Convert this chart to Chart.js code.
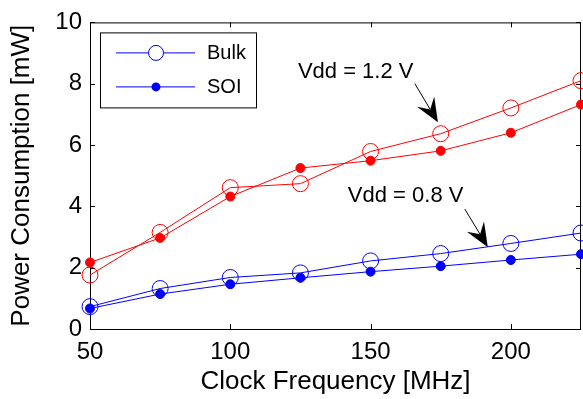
<!DOCTYPE html>
<html>
<head>
<meta charset="utf-8">
<script src="https://cdn.jsdelivr.net/npm/chart.js@4"></script>
<style>
  html, body { margin: 0; padding: 0; background: #fff; }
</style>
</head>
<body>
<canvas id="chart" width="583" height="399"></canvas>
<script>
// data (mW vs MHz)
const freqs  = [50, 75, 100, 125, 150, 175, 200, 225];
const bulk12 = [1.76, 3.15, 4.61, 4.74, 5.79, 6.37, 7.21, 8.10];
const soi12  = [2.17, 2.97, 4.32, 5.25, 5.49, 5.81, 6.40, 7.32];
const bulk08 = [0.73, 1.32, 1.68, 1.83, 2.22, 2.46, 2.79, 3.13];
const soi08  = [0.67, 1.14, 1.46, 1.67, 1.87, 2.05, 2.25, 2.44];
const xTicks = [50, 100, 150, 200];
const yTicks = [0, 2, 4, 6, 8, 10];
const legendNames = ['Bulk', 'SOI'];

// annotations in data units: label position, arrow start, arrow tip
const notes = [
  { text: 'Vdd = 1.2 V', at: [124.1, 8.2], from: [165.8, 8.0], to: [174.0, 6.74] },
  { text: 'Vdd = 0.8 V', at: [141.9, 4.13], from: [183.6, 3.91], to: [191.8, 2.67] }
];

const FONT = "'Liberation Sans', Arial, Helvetica, sans-serif";
Chart.defaults.font.family = FONT;
Chart.defaults.color = '#000';

function pts(vals) {
  return freqs.map((f, i) => ({ x: f, y: vals[i] }));
}

function openSeries(vals, color) {
  return {
    data: pts(vals), borderColor: color, borderWidth: 1, tension: 0,
    pointStyle: 'circle', pointRadius: 8, pointBorderWidth: 1,
    pointBorderColor: color, pointBackgroundColor: 'rgba(0,0,0,0)', clip: false
  };
}
function dotSeries(vals, color) {
  return {
    data: pts(vals), borderColor: color, borderWidth: 1, tension: 0,
    pointStyle: 'circle', pointRadius: 4.5, pointBorderWidth: 1,
    pointBorderColor: color, pointBackgroundColor: color, clip: false
  };
}

// box + inward ticks on all four sides, under the markers
const framePlugin = {
  id: 'frame',
  beforeDatasetsDraw(chart) {
    const { ctx, chartArea: a, scales: { x, y } } = chart;
    ctx.save();
    ctx.strokeStyle = '#000';
    ctx.lineWidth = 1;
    ctx.strokeRect(a.left + 0.5, a.top + 0.5, a.right - a.left - 1, a.bottom - a.top);
    ctx.beginPath();
    xTicks.forEach(v => {
      const px = Math.round(x.getPixelForValue(v)) + 0.5;
      ctx.moveTo(px, a.bottom); ctx.lineTo(px, a.bottom - 5);
      ctx.moveTo(px, a.top); ctx.lineTo(px, a.top + 5);
    });
    yTicks.forEach(v => {
      const py = Math.round(y.getPixelForValue(v)) + 0.5;
      ctx.moveTo(a.left, py); ctx.lineTo(a.left + 5, py);
      ctx.moveTo(a.right, py); ctx.lineTo(a.right - 5, py);
    });
    ctx.stroke();
    ctx.restore();
  }
};

function arrow(ctx, x0, y0, x1, y1) {
  const dx = x1 - x0, dy = y1 - y0;
  const len = Math.hypot(dx, dy);
  const ux = dx / len, uy = dy / len;
  const nx = -uy, ny = ux;
  const hl = 24, hw = 10, notch = 15;
  ctx.beginPath();
  ctx.moveTo(x0, y0);
  ctx.lineTo(x1 - ux * notch, y1 - uy * notch);
  ctx.stroke();
  ctx.beginPath();
  ctx.moveTo(x1, y1);
  ctx.lineTo(x1 - ux * hl + nx * hw, y1 - uy * hl + ny * hw);
  ctx.lineTo(x1 - ux * notch, y1 - uy * notch);
  ctx.lineTo(x1 - ux * hl - nx * hw, y1 - uy * hl - ny * hw);
  ctx.closePath();
  ctx.fill();
}

const extrasPlugin = {
  id: 'extras',
  afterDatasetsDraw(chart) {
    const { ctx, chartArea: a, scales: { x, y } } = chart;
    ctx.save();
    // annotations
    ctx.fillStyle = '#000';
    ctx.strokeStyle = '#000';
    ctx.lineWidth = 1;
    ctx.font = '22px ' + FONT;
    ctx.textBaseline = 'alphabetic';
    ctx.textAlign = 'left';
    notes.forEach(n => {
      ctx.fillText(n.text, x.getPixelForValue(n.at[0]), y.getPixelForValue(n.at[1]));
      arrow(ctx, x.getPixelForValue(n.from[0]), y.getPixelForValue(n.from[1]),
                 x.getPixelForValue(n.to[0]), y.getPixelForValue(n.to[1]));
    });

    // legend box, top left inside the axes
    const bx = a.left + 10, by = a.top + 10, bw = 156, bh = 75;
    ctx.fillStyle = '#fff';
    ctx.fillRect(bx, by, bw, bh);
    ctx.strokeRect(bx + 0.5, by + 0.5, bw, bh);
    const rows = [by + 20.5, by + 54.5];
    ctx.strokeStyle = '#00f';
    rows.forEach((ry, i) => {
      ctx.beginPath();
      ctx.moveTo(bx + 16, ry); ctx.lineTo(bx + 95, ry);
      ctx.stroke();
      ctx.beginPath();
      if (i === 0) {
        ctx.fillStyle = '#fff';
        ctx.arc(bx + 56, ry, 7.5, 0, Math.PI * 2);
        ctx.fill();
        ctx.stroke();
      } else {
        ctx.fillStyle = '#00f';
        ctx.arc(bx + 56, ry, 4.5, 0, Math.PI * 2);
        ctx.fill();
      }
      ctx.fillStyle = '#000';
      ctx.font = '20px ' + FONT;
      ctx.textBaseline = 'middle';
      ctx.fillText(legendNames[i], bx + 107, ry + 1);
    });
    ctx.restore();
  }
};

new Chart(document.getElementById('chart'), {
  type: 'line',
  data: {
    datasets: [
      openSeries(bulk12, '#ff0000'),
      dotSeries(soi12, '#ff0000'),
      openSeries(bulk08, '#0000ff'),
      dotSeries(soi08, '#0000ff')
    ]
  },
  options: {
    responsive: false,
    animation: false,
    devicePixelRatio: 1,
    // no auto padding for the markers: the last points sit on the cropped right edge
    layout: { autoPadding: false, padding: { left: 0, right: 2, top: 22, bottom: 0 } },
    plugins: { legend: { display: false }, tooltip: { enabled: false } },
    scales: {
      x: {
        type: 'linear', min: 50, max: 225,
        afterBuildTicks: s => { s.ticks = xTicks.map(v => ({ value: v })); },
        afterFit: s => { s.height = 70; },
        grid: { display: false, drawTicks: false },
        border: { display: false },
        ticks: { font: { size: 24 }, color: '#000', padding: 9, maxRotation: 0 },
        title: { display: true, text: 'Clock Frequency [MHz]', font: { size: 26 }, color: '#000', padding: { top: 0, bottom: 2 } }
      },
      y: {
        type: 'linear', min: 0, max: 10,
        afterBuildTicks: s => { s.ticks = yTicks.map(v => ({ value: v })); },
        afterFit: s => { s.width = 90; },
        grid: { display: false, drawTicks: false },
        border: { display: false },
        ticks: { font: { size: 24 }, color: '#000', padding: 8 },
        title: { display: true, text: 'Power Consumption [mW]', font: { size: 26 }, color: '#000', padding: { top: 6, bottom: 0 } }
      }
    }
  },
  plugins: [framePlugin, extrasPlugin]
});
</script>
</body>
</html>
